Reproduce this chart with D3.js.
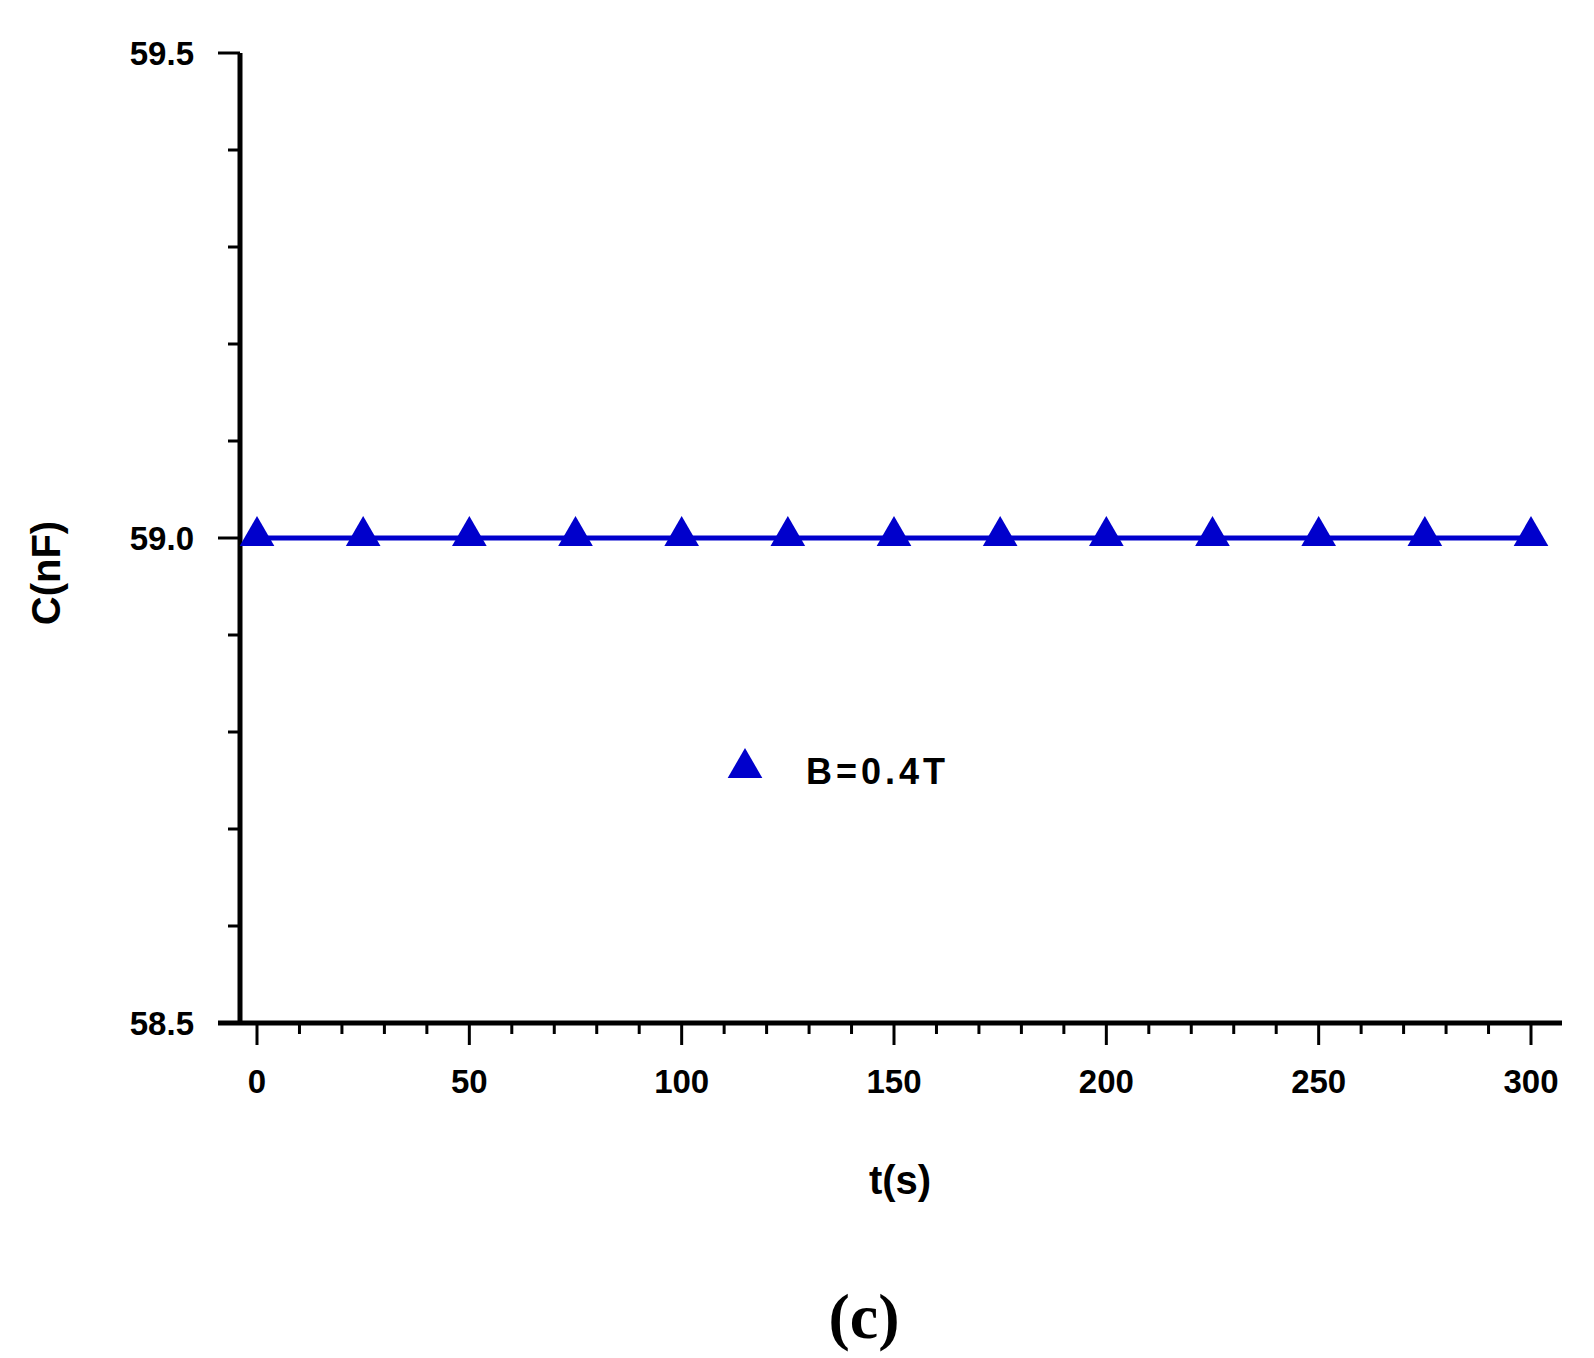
<!DOCTYPE html>
<html><head><meta charset="utf-8">
<script src="https://cdn.jsdelivr.net/npm/d3@7"></script>
<style>body{margin:0;background:#fff}</style>
</head><body>
<script>
const times = [0, 25, 50, 75, 100, 125, 150, 175, 200, 225, 250, 275, 300];
const capacitance = [59.0, 59.0, 59.0, 59.0, 59.0, 59.0, 59.0, 59.0, 59.0, 59.0, 59.0, 59.0, 59.0];
const xTicks = [0, 50, 100, 150, 200, 250, 300];
const yTicks = [58.5, 59.0, 59.5];
const seriesName = "B=0.4T";

const w = 1594, h = 1358;
const svg = d3.select("body").append("svg").attr("width", w).attr("height", h);
const x = d3.scaleLinear().domain([0, 300]).range([257, 1531]);
const y = d3.scaleLinear().domain([58.5, 59.5]).range([1023, 53]);
const font = "Liberation Sans, Arial, sans-serif";
const blue = "#0000cc";

// axis lines
svg.append("line").attr("x1", 218).attr("x2", 1562).attr("y1", 1023).attr("y2", 1023)
  .attr("stroke", "#000").attr("stroke-width", 5);
svg.append("line").attr("x1", 240).attr("x2", 240).attr("y1", 53).attr("y2", 1023)
  .attr("stroke", "#000").attr("stroke-width", 5);

// x ticks
const xMinor = d3.range(0, 301, 10).filter(v => v % 50 !== 0);
svg.selectAll(".xmaj").data(xTicks).enter().append("line")
  .attr("x1", d => x(d)).attr("x2", d => x(d)).attr("y1", 1023).attr("y2", 1045)
  .attr("stroke", "#000").attr("stroke-width", 3);
svg.selectAll(".xmin").data(xMinor).enter().append("line")
  .attr("x1", d => x(d)).attr("x2", d => x(d)).attr("y1", 1023).attr("y2", 1034)
  .attr("stroke", "#000").attr("stroke-width", 3);
svg.selectAll(".xlab").data(xTicks).enter().append("text")
  .attr("x", d => x(d)).attr("y", 1093).attr("text-anchor", "middle")
  .attr("font-family", font).attr("font-weight", "bold").attr("font-size", 33)
  .text(d => d);

// y ticks
const yMinor = d3.range(58.6, 59.45, 0.1).filter(v => Math.abs(v - 59.0) > 0.01);
svg.selectAll(".ymaj").data(yTicks).enter().append("line")
  .attr("x1", 218).attr("x2", 240).attr("y1", d => y(d)).attr("y2", d => y(d))
  .attr("stroke", "#000").attr("stroke-width", 3);
svg.selectAll(".ymin").data(yMinor).enter().append("line")
  .attr("x1", 228).attr("x2", 240).attr("y1", d => y(d)).attr("y2", d => y(d))
  .attr("stroke", "#000").attr("stroke-width", 3);
svg.selectAll(".ylab").data(yTicks).enter().append("text")
  .attr("x", 194).attr("y", d => y(d) + 12).attr("text-anchor", "end")
  .attr("font-family", font).attr("font-weight", "bold").attr("font-size", 33)
  .text(d => d.toFixed(1));

// axis titles
svg.append("text").attr("x", 900).attr("y", 1194).attr("text-anchor", "middle")
  .attr("font-family", font).attr("font-weight", "bold").attr("font-size", 40).text("t(s)");
svg.append("text").attr("transform", "translate(60,573) rotate(-90)").attr("text-anchor", "middle")
  .attr("font-family", font).attr("font-weight", "bold").attr("font-size", 40).text("C(nF)");

// series
const data = times.map((t, i) => [t, capacitance[i]]);
svg.append("path").datum(data)
  .attr("d", d3.line().x(d => x(d[0])).y(d => y(d[1])))
  .attr("fill", "none").attr("stroke", blue).attr("stroke-width", 5);
const tri = d3.symbol().type(d3.symbolTriangle).size(520);
svg.selectAll(".pt").data(data).enter().append("path")
  .attr("d", tri).attr("transform", d => `translate(${x(d[0])},${y(d[1]) - 2})`)
  .attr("fill", blue);

// legend
svg.append("path").attr("d", tri).attr("transform", "translate(745,768)").attr("fill", blue);
svg.append("text").attr("x", 806).attr("y", 784).attr("letter-spacing", 4)
  .attr("font-family", font).attr("font-weight", "bold").attr("font-size", 36).text(seriesName);

// panel label
svg.append("text").attr("x", 864).attr("y", 1338).attr("text-anchor", "middle")
  .attr("font-family", "Liberation Serif, serif").attr("font-weight", "bold").attr("font-size", 64).text("(c)");
</script>
</body></html>
